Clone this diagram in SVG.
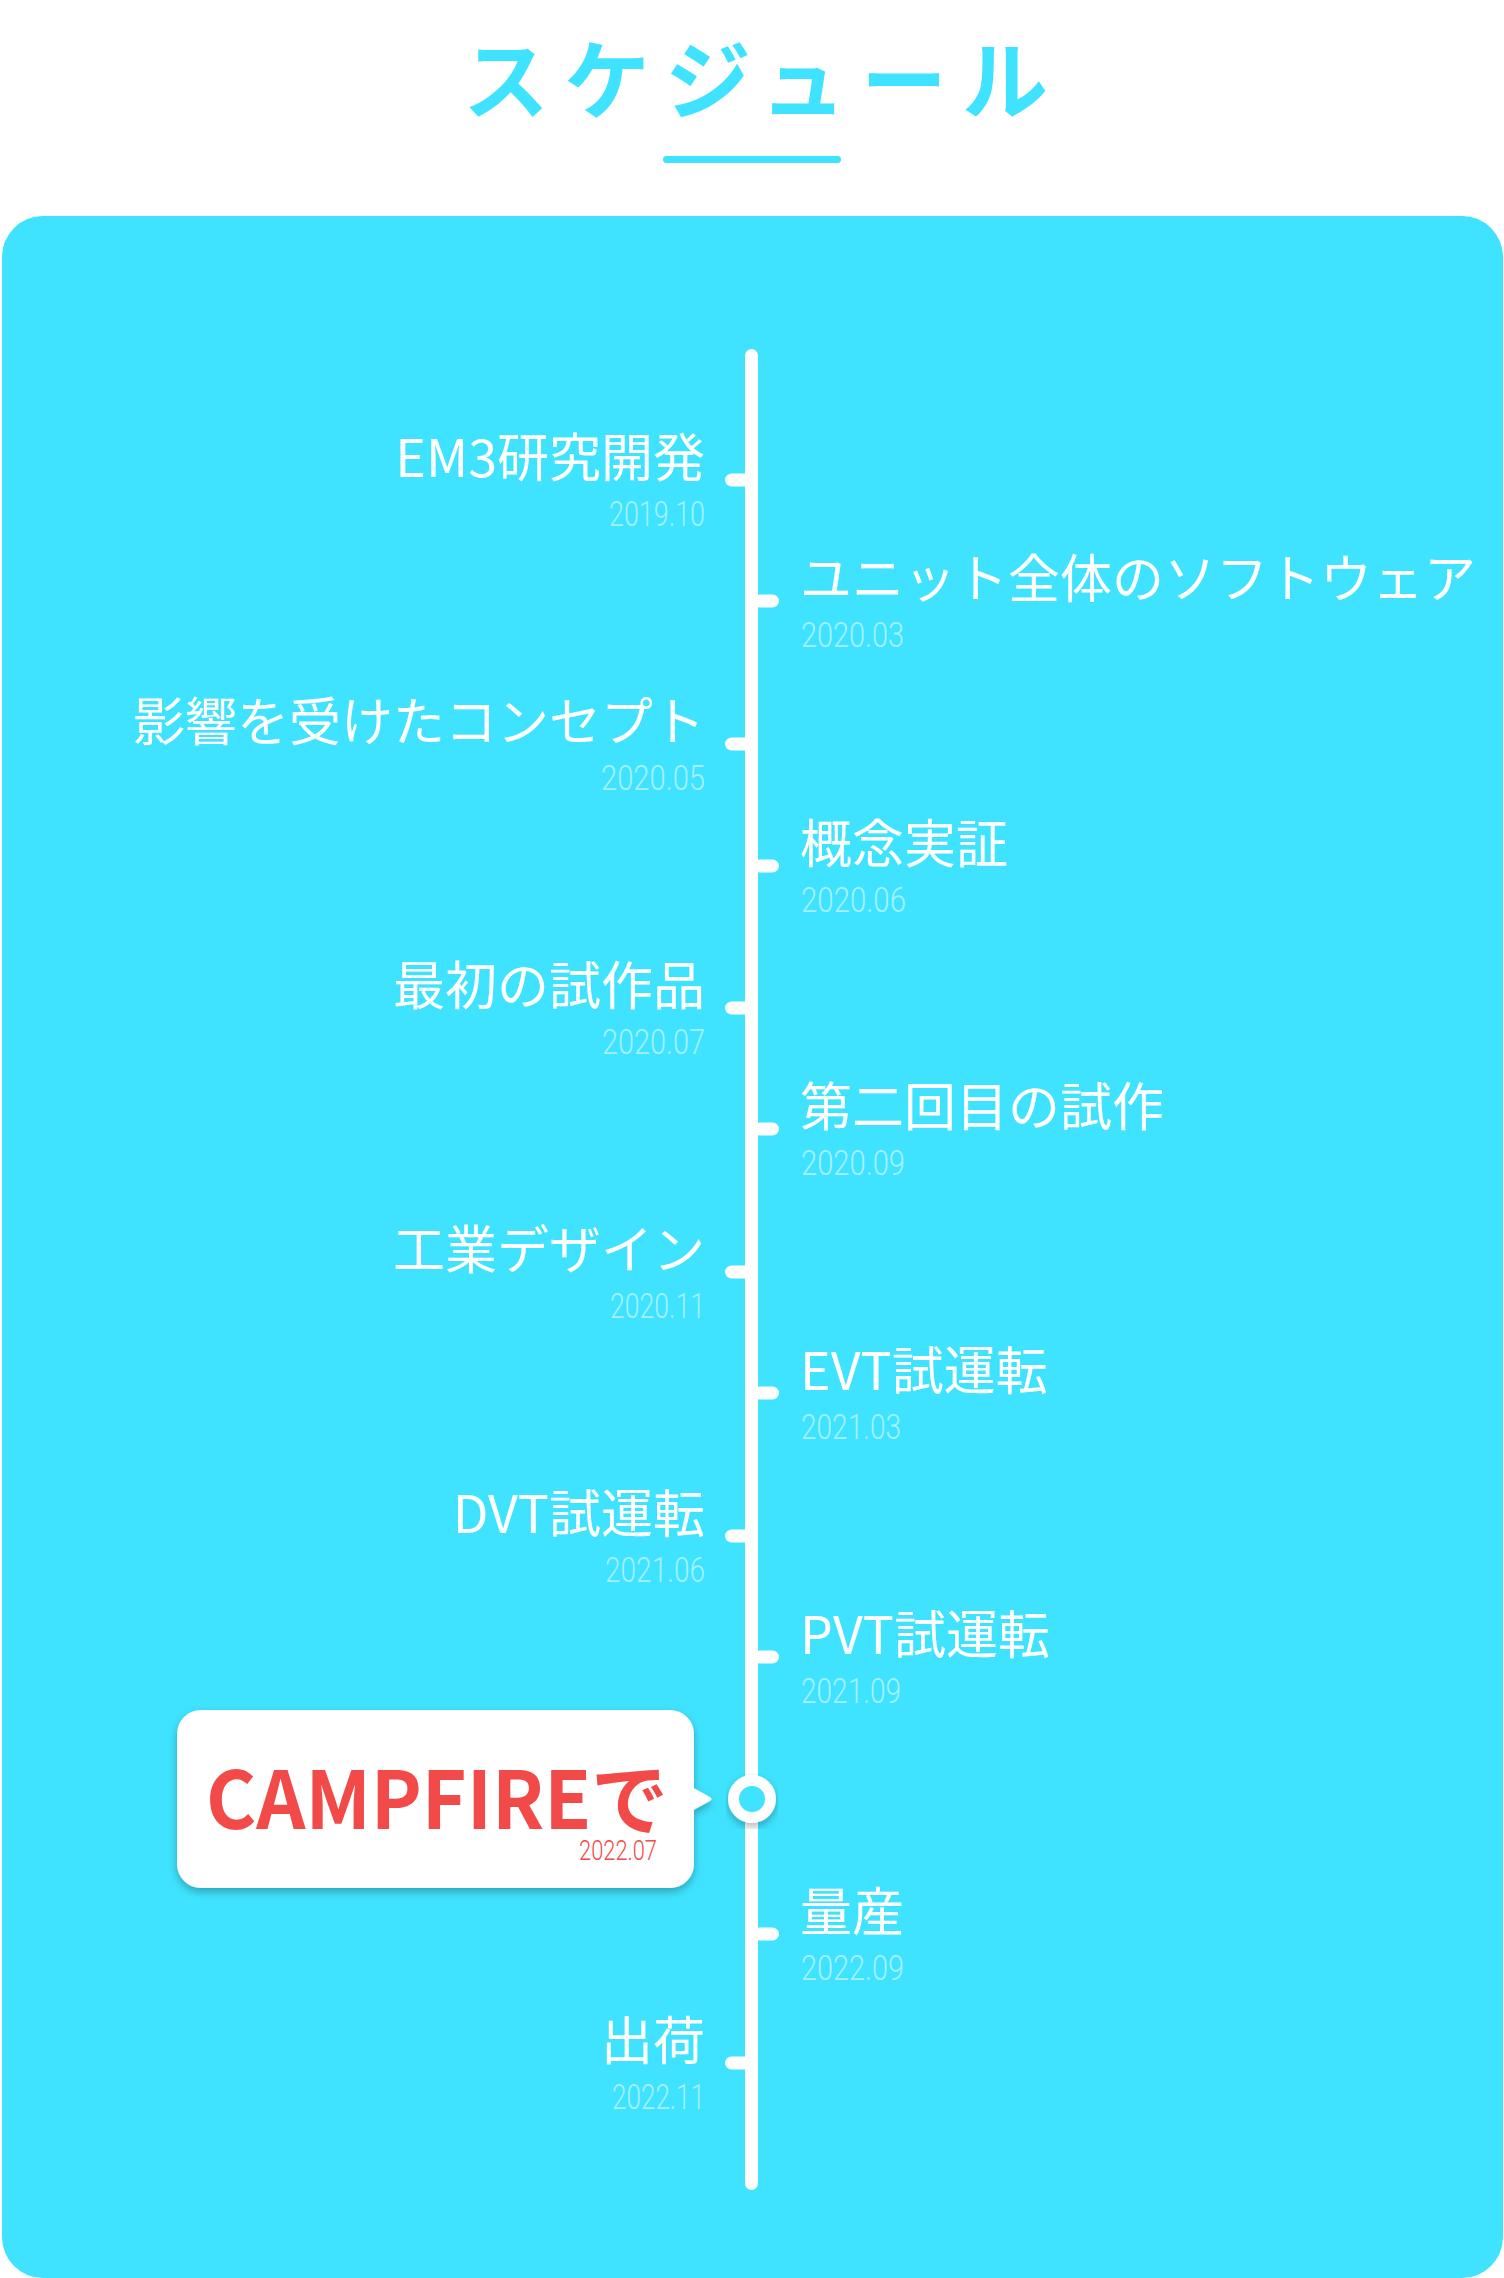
<svg xmlns="http://www.w3.org/2000/svg" width="1504" height="2278" viewBox="0 0 1504 2278">
<defs>
<style>
.lbl{font-family:"Noto Sans CJK JP","Noto Sans",sans-serif;font-size:52px;font-weight:400;fill:#ffffff}
.date{font-family:Roboto,"Liberation Sans",sans-serif;font-size:35px;font-weight:300;fill:#ffffff;fill-opacity:0.55}
.L{text-anchor:end}
.title{font-family:"Noto Sans CJK JP","Noto Sans",sans-serif;font-size:86px;font-weight:700;fill:#3FE3FF;letter-spacing:15px;text-anchor:middle}
.tick{fill:#ffffff}
</style>
<filter id="sh" x="-20%" y="-20%" width="140%" height="150%">
<feDropShadow dx="0" dy="4" stdDeviation="4" flood-color="#000000" flood-opacity="0.28"/>
</filter>
</defs>
<rect width="1504" height="2278" fill="#ffffff"/>
<g id="title">
<text class="title" x="763" y="113">スケジュール</text>
<rect x="663" y="156" width="178" height="7" rx="3.5" fill="#3FE3FF"/>
</g>
<rect id="panel" x="2" y="216" width="1501" height="2062" rx="41" fill="#3FE3FF"/>
<g id="connectors">
<rect x="745" y="349" width="13" height="1841" rx="6.5" fill="#ffffff"/>
<rect class="tick" x="725" y="473.5" width="26" height="13" rx="6.5"/>
<rect class="tick" x="725" y="737.5" width="26" height="13" rx="6.5"/>
<rect class="tick" x="725" y="1001.5" width="26" height="13" rx="6.5"/>
<rect class="tick" x="725" y="1265.5" width="26" height="13" rx="6.5"/>
<rect class="tick" x="725" y="1529.5" width="26" height="13" rx="6.5"/>
<rect class="tick" x="725" y="2056.5" width="26" height="13" rx="6.5"/>
<rect class="tick" x="753" y="594.5" width="26" height="13" rx="6.5"/>
<rect class="tick" x="753" y="859.5" width="26" height="13" rx="6.5"/>
<rect class="tick" x="753" y="1122.5" width="26" height="13" rx="6.5"/>
<rect class="tick" x="753" y="1386.5" width="26" height="13" rx="6.5"/>
<rect class="tick" x="753" y="1650.5" width="26" height="13" rx="6.5"/>
<rect class="tick" x="753" y="1927.5" width="26" height="13" rx="6.5"/>
</g>
<g id="n1"><text class="lbl L" x="705" y="477">EM3研究開発</text><text class="date L" x="705" y="526" textLength="96" lengthAdjust="spacingAndGlyphs">2019.10</text></g>
<g id="n2"><text class="lbl" x="800" y="598">ユニット全体のソフトウェア</text><text class="date" x="801" y="647" textLength="103" lengthAdjust="spacingAndGlyphs">2020.03</text></g>
<g id="n3"><text class="lbl L" x="705" y="741">影響を受けたコンセプト</text><text class="date L" x="705" y="790" textLength="104" lengthAdjust="spacingAndGlyphs">2020.05</text></g>
<g id="n4"><text class="lbl" x="800" y="863">概念実証</text><text class="date" x="801" y="912" textLength="105" lengthAdjust="spacingAndGlyphs">2020.06</text></g>
<g id="n5"><text class="lbl L" x="705" y="1005">最初の試作品</text><text class="date L" x="705" y="1054" textLength="103" lengthAdjust="spacingAndGlyphs">2020.07</text></g>
<g id="n6"><text class="lbl" x="800" y="1126">第二回目の試作</text><text class="date" x="801" y="1175" textLength="104" lengthAdjust="spacingAndGlyphs">2020.09</text></g>
<g id="n7"><text class="lbl L" x="705" y="1269">工業デザイン</text><text class="date L" x="705" y="1318" textLength="95" lengthAdjust="spacingAndGlyphs">2020.11</text></g>
<g id="n8"><text class="lbl" x="800" y="1390">EVT試運転</text><text class="date" x="801" y="1439" textLength="100" lengthAdjust="spacingAndGlyphs">2021.03</text></g>
<g id="n9"><text class="lbl L" x="705" y="1533">DVT試運転</text><text class="date L" x="705" y="1582" textLength="100" lengthAdjust="spacingAndGlyphs">2021.06</text></g>
<g id="n10"><text class="lbl" x="800" y="1654">PVT試運転</text><text class="date" x="801" y="1703" textLength="100" lengthAdjust="spacingAndGlyphs">2021.09</text></g>
<g id="campfire">
<g filter="url(#sh)">
<rect x="177" y="1710" width="517" height="178" rx="24" fill="#ffffff"/>
<path d="M690 1786 L710 1797 Q713 1799 710 1801 L690 1812 Z" fill="#ffffff"/>
</g>
<text x="206" y="1829" textLength="462" lengthAdjust="spacingAndGlyphs" style="font-family:'Noto Sans CJK JP','Noto Sans',sans-serif;font-size:80px;font-weight:700;fill:#F24A48">CAMPFIREで</text>
<text x="657" y="1860" text-anchor="end" textLength="78" lengthAdjust="spacingAndGlyphs" style="font-family:Roboto,'Liberation Sans',sans-serif;font-size:27px;font-weight:300;fill:#F24A48">2022.07</text>
<circle cx="752" cy="1799" r="18.5" fill="#3FE3FF" stroke="#ffffff" stroke-width="11" filter="url(#sh)"/>
</g>
<g id="n11"><text class="lbl" x="800" y="1931">量産</text><text class="date" x="801" y="1980" textLength="103" lengthAdjust="spacingAndGlyphs">2022.09</text></g>
<g id="n12"><text class="lbl L" x="705" y="2060">出荷</text><text class="date L" x="705" y="2109" textLength="93" lengthAdjust="spacingAndGlyphs">2022.11</text></g>
</svg>
